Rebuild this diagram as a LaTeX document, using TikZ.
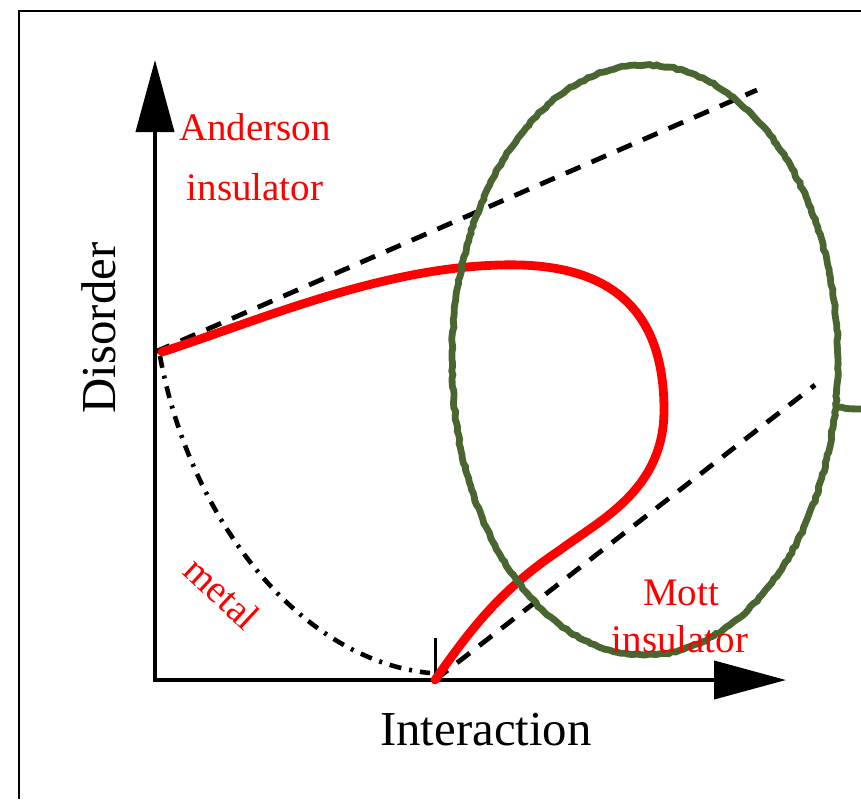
\documentclass[tikz,border=0pt]{standalone}
\usepackage{fontspec}
\setmainfont{Liberation Serif}
\usetikzlibrary{arrows.meta,decorations.pathmorphing}
\definecolor{chalkgreen}{RGB}{74,102,48}
\tikzset{
  axis/.style      = {line width=2pt, -{Triangle[length=36pt,width=19pt]}},
  phaseline/.style = {line width=4.4pt, red, line cap=round},
  guide/.style     = {line width=2.4pt, dash pattern=on 8pt off 6pt},
  crossover/.style = {line width=2.3pt, dash pattern=on 6pt off 4pt on 1.5pt off 4pt},
  chalk/.style     = {line width=3.4pt, chalkgreen, decorate,
                      decoration={random steps, segment length=2pt, amplitude=0.4pt}},
  axlab/.style     = {font=\fontsize{24.4}{28}\selectfont, inner sep=0pt},
  phaselab/.style  = {red, font=\fontsize{19.5}{23}\selectfont, inner sep=0pt},
}

\begin{document}
\begin{tikzpicture}[x=0.5pt,y=-0.5pt]
  \useasboundingbox (0,0) rectangle (861,799);
  \draw[line width=1.3pt] (19,799) -- (19,11) -- (861,11);

  % axes
  \coordinate (o)    at (155,680);
  \coordinate (ybot) at (155,682);
  \coordinate (ytip) at (155,60);
  \coordinate (xlft) at (153,680);
  \coordinate (xtip) at (786,680);
  \coordinate (uc)   at (435,680);
  \coordinate (ucup) at (435,638);
  \coordinate (wc)   at (155,352);
  \draw[axis] (ybot) -- (ytip);
  \draw[axis] (xlft) -- (xtip);
  \draw[line width=1.5pt] (ucup) -- (uc);

  % asymptotes
  \coordinate (aend) at (757,90);
  \coordinate (mend) at (815,385);
  \draw[guide] (wc) -- (aend);
  \draw[guide] (uc) -- (mend);

  % metal boundary
  \draw[crossover] (160,356) .. controls (190,520) and (300,660) .. (430,673);

  % phase line
  \draw[phaseline] (162,352) .. controls (260,320) and (380,268) .. (500,265)
    .. controls (600,262) and (664,300) .. (664,410)
    .. controls (664,490) and (600,520) .. (560,550)
    .. controls (500,590) and (470,630) .. (uc);

  % highlight
  \coordinate (ring) at (645,360);
  \draw[chalk] (ring) ellipse [x radius=193, y radius=295];
  \coordinate (tailin)  at (838,407);
  \coordinate (tailout) at (861,409);
  \draw[chalk] (tailin) -- (tailout);

  % labels
  \node[phaselab, anchor=base] (and1)  at (255,140) {Anderson};
  \node[phaselab, anchor=base] (and2)  at (255,200) {insulator};
  \node[phaselab, anchor=base] (mott1) at (681,605) {Mott};
  \node[phaselab, anchor=base] (mott2) at (680,652) {insulator};
  \node[phaselab, rotate=-43]  (metal) at (222,593) {metal};
  \node[axlab, anchor=base] (xlab) at (486,745) {Interaction};
  \node[axlab, anchor=base, rotate=90] (ylab) at (115,328) {Disorder};
\end{tikzpicture}
\end{document}
